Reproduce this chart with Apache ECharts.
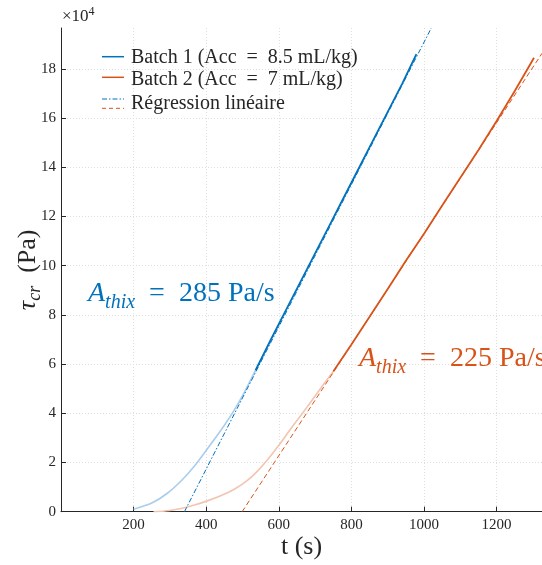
<!DOCTYPE html>
<html><head><meta charset="utf-8">
<script src="https://cdn.jsdelivr.net/npm/echarts@6/dist/echarts.min.js"></script>
<style>html,body{margin:0;padding:0;background:#fff}#c{width:542px;height:565px}</style>
</head><body><div id="c"></div>
<script>
// ---- data ----
const xTicks = [200, 400, 600, 800, 1000, 1200];
const yTicks = [0, 20000, 40000, 60000, 80000, 100000, 120000, 140000, 160000, 180000];
const xMax = 1325;
const yMax = 196600;

const blueEarlyT = [200, 250, 293, 334, 370, 403, 440, 476, 505, 536];
const blueEarlyY = [1000, 3500, 7500, 13000, 19000, 25500, 33000, 41000, 48500, 57500];
const blueMainT = [536, 580, 620, 660, 700, 740, 780, 820, 860, 900, 940, 979];
const blueMainY = [57500, 70500, 82000, 93500, 105000, 116500, 128000, 139500, 151000, 162500, 174000, 186000];

const orangeEarlyT = [255, 300, 334, 370, 403, 440, 476, 510, 540, 570, 600, 632, 660, 690, 727, 750];
const orangeEarlyY = [0, 500, 1400, 2800, 4400, 6500, 9000, 12300, 16300, 21300, 27000, 33500, 39000, 45000, 52500, 57000];
const orangeMainT = [750, 800, 850, 900, 950, 1000, 1050, 1100, 1150, 1200, 1250, 1303];
const orangeMainY = [57000, 68000, 79200, 90500, 102000, 113000, 124500, 135700, 147000, 158800, 171000, 184500];

const blueFitT = [340, 1020];
const blueFitY = [0, 196600];
const orangeFitT = [499, 1325];
const orangeFitY = [0, 186300];

const legendNames = ['Batch 1 (Acc\u2002=\u20028.5 mL/kg)', 'Batch 2 (Acc\u2002=\u20027 mL/kg)', 'Régression linéaire'];
const annBlue = '285 Pa/s';
const annOrange = '225 Pa/s';

// ---- chart ----
const BLUE = '#0072BD', ORANGE = '#D95319';
const LBLUE = '#a9cdec', LORANGE = '#f3c4b0';
const FONT = '"Liberation Serif", "DejaVu Serif", serif';
const TXT = '#262626';
const pairs = (t, y) => t.map((v, i) => [v, y[i]]);

const chart = echarts.init(document.getElementById('c'), null, {renderer: 'canvas'});

const annRich = (color) => ({
  a: {fontFamily: FONT, fontSize: 28, fontStyle: 'italic', lineHeight: 38, fill: color, color: color},
  s: {fontFamily: FONT, fontSize: 20, fontStyle: 'italic', lineHeight: 20, verticalAlign: 'bottom', fill: color, color: color},
  n: {fontFamily: FONT, fontSize: 28, lineHeight: 38, fill: color, color: color}
});

chart.setOption({
  animation: false,
  backgroundColor: '#fff',
  grid: {left: 61, right: 0, top: 28, bottom: 53.3, containLabel: false, outerBoundsMode: 'none'},
  xAxis: {
    type: 'value', min: 0, max: xMax, interval: 200,
    name: 't (s)', nameLocation: 'middle', nameGap: 22, nameMoveOverlap: false,
    nameTextStyle: {fontFamily: FONT, fontSize: 26, color: TXT},
    axisLine: {show: true, lineStyle: {color: TXT, width: 1}},
    axisTick: {show: true, inside: true, length: 5, lineStyle: {color: TXT}, customValues: xTicks},
    axisLabel: {fontFamily: FONT, fontSize: 15, color: TXT, margin: 6, customValues: xTicks,
      formatter: v => String(Math.round(v))},
    splitLine: {show: true, lineStyle: {color: '#dedede', type: [1, 2], width: 1}}
  },
  yAxis: {
    type: 'value', min: 0, max: yMax, interval: 20000,
    name: '{t|τ}{s|cr}{n|\u2002(Pa)}', nameLocation: 'middle', nameGap: 17, nameMoveOverlap: false,
    nameTextStyle: {
      fontFamily: FONT, fontSize: 26, color: TXT,
      rich: {
        t: {fontFamily: FONT, fontSize: 26, fontStyle: 'italic', lineHeight: 32, color: TXT},
        s: {fontFamily: FONT, fontSize: 18, fontStyle: 'italic', lineHeight: 18, verticalAlign: 'bottom', color: TXT},
        n: {fontFamily: FONT, fontSize: 26, lineHeight: 32, color: TXT}
      }
    },
    axisLine: {show: true, lineStyle: {color: TXT, width: 1}},
    axisTick: {show: true, inside: true, length: 5, lineStyle: {color: TXT}, customValues: yTicks},
    axisLabel: {fontFamily: FONT, fontSize: 15, color: TXT, margin: 5,
      customValues: yTicks, formatter: v => String(Math.round(v / 10000))},
    splitLine: {show: true, lineStyle: {color: '#dedede', type: [1, 2], width: 1}}
  },
  series: [
    {type: 'line', name: 'b1e', data: pairs(blueEarlyT, blueEarlyY), symbol: 'none', smooth: 0.25, z: 2, silent: true,
      lineStyle: {color: LBLUE, width: 1.6}},
    {type: 'line', name: 'b2e', data: pairs(orangeEarlyT, orangeEarlyY), symbol: 'none', smooth: 0.35, z: 2, silent: true,
      lineStyle: {color: LORANGE, width: 1.6}},
    {type: 'line', name: 'fit1', data: pairs(blueFitT, blueFitY), symbol: 'none', z: 3, silent: true,
      lineStyle: {color: BLUE, width: 1, type: [5, 2, 1.5, 2]}},
    {type: 'line', name: 'fit2', data: pairs(orangeFitT, orangeFitY), symbol: 'none', z: 3, silent: true,
      lineStyle: {color: ORANGE, width: 1, type: [5, 3]}},
    {type: 'line', name: 'b1', data: pairs(blueMainT, blueMainY), symbol: 'none', z: 4, silent: true,
      lineStyle: {color: BLUE, width: 1.8}},
    {type: 'line', name: 'b2', data: pairs(orangeMainT, orangeMainY), symbol: 'none', z: 4, silent: true,
      lineStyle: {color: ORANGE, width: 1.8}}
  ],
  graphic: [
    // x10^4 multiplier
    {type: 'text', left: 62, top: 6, z: 10, style: {text: '{m|×10}{p|4}', fill: TXT,
      rich: {m: {fontFamily: FONT, fontSize: 17, lineHeight: 22, fill: TXT},
             p: {fontFamily: FONT, fontSize: 12, lineHeight: 12, verticalAlign: 'top', fill: TXT}}}},
    // legend
    {type: 'line', z: 10, shape: {x1: 102, y1: 56.7, x2: 124, y2: 56.7}, style: {stroke: BLUE, lineWidth: 1.5}},
    {type: 'line', z: 10, shape: {x1: 102, y1: 77.3, x2: 124, y2: 77.3}, style: {stroke: ORANGE, lineWidth: 1.5}},
    {type: 'line', z: 10, shape: {x1: 102, y1: 99, x2: 124, y2: 99}, style: {stroke: BLUE, lineWidth: 1, lineDash: [5, 2, 1.5, 2]}},
    {type: 'line', z: 10, shape: {x1: 102, y1: 108.3, x2: 124, y2: 108.3}, style: {stroke: ORANGE, lineWidth: 1, lineDash: [4, 3]}},
    {type: 'text', z: 10, x: 131, y: 58, style: {text: legendNames[0], font: '20px ' + FONT, fill: TXT, textVerticalAlign: 'middle'}},
    {type: 'text', z: 10, x: 131, y: 79.5, style: {text: legendNames[1], font: '20px ' + FONT, fill: TXT, textVerticalAlign: 'middle'}},
    {type: 'text', z: 10, x: 131, y: 104, style: {text: legendNames[2], font: '20px ' + FONT, fill: TXT, textVerticalAlign: 'middle'}},
    // annotations
    {type: 'text', z: 10, x: 88, y: 275, style: {text: '{a|A}{s|thix}{n|\u2002=\u2002' + annBlue + '}', fill: BLUE, rich: annRich(BLUE)}},
    {type: 'text', z: 10, x: 359, y: 340, style: {text: '{a|A}{s|thix}{n|\u2002=\u2002' + annOrange + '}', fill: ORANGE, rich: annRich(ORANGE)}}
  ]
});
</script></body></html>
